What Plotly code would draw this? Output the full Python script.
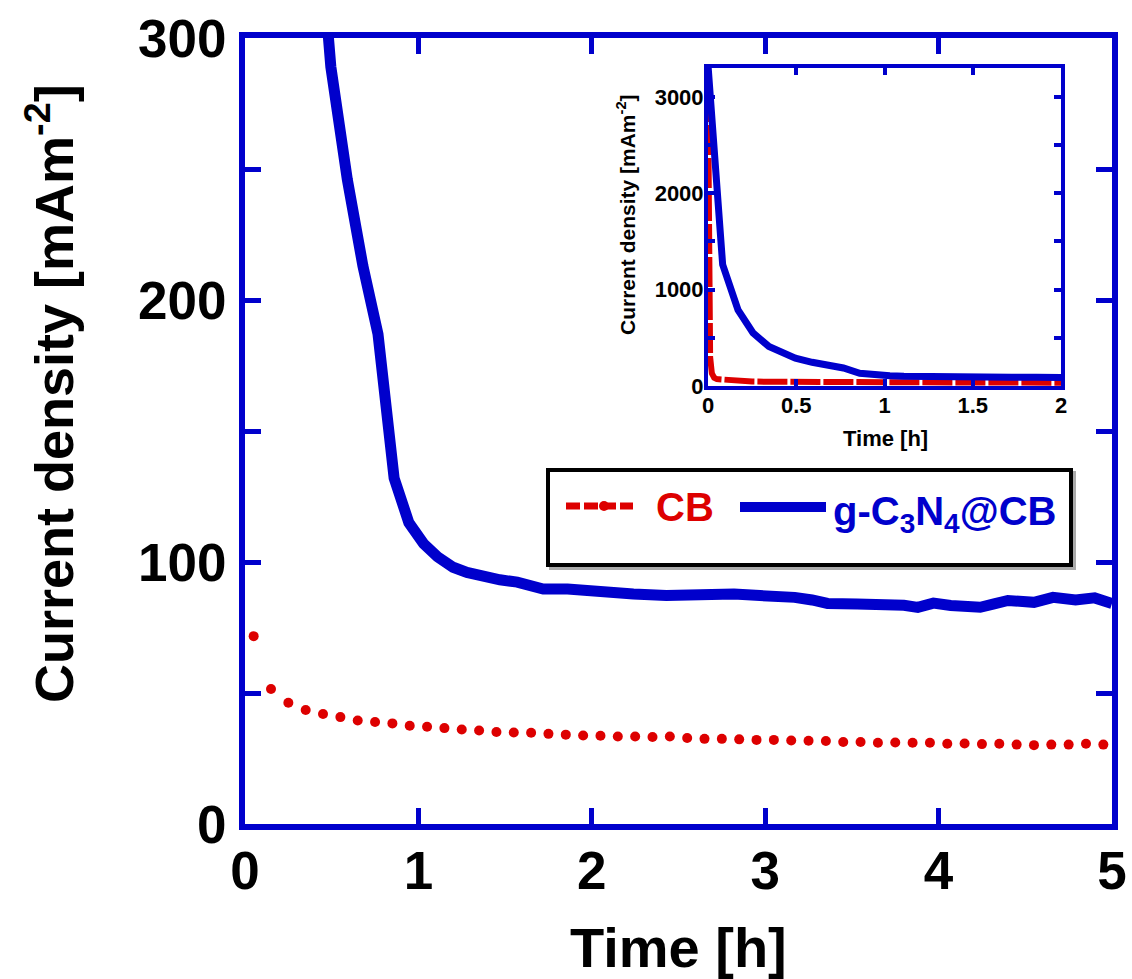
import plotly.graph_objects as go

# ---------------- data ----------------
cb_time = [0.0, 0.005, 0.012, 0.022, 0.035,
           0.05, 0.15, 0.25, 0.35, 0.45, 0.55, 0.65, 0.75, 0.85, 0.95,
           1.05, 1.15, 1.25, 1.35, 1.45, 1.55, 1.65, 1.75, 1.85, 1.95,
           2.05, 2.15, 2.25, 2.35, 2.45, 2.55, 2.65, 2.75, 2.85, 2.95,
           3.05, 3.15, 3.25, 3.35, 3.45, 3.55, 3.65, 3.75, 3.85, 3.95,
           4.05, 4.15, 4.25, 4.35, 4.45, 4.55, 4.65, 4.75, 4.85, 4.95]
cb_current = [3050, 620, 300, 130, 85,
              71.7, 51.5, 46.3, 43.5, 42.0, 40.8, 39.5, 38.9, 38.4, 37.5,
              37.1, 36.6, 36.1, 35.7, 35.1, 34.9, 34.8, 34.4, 34.1, 33.8,
              33.7, 33.4, 33.4, 33.2, 33.4, 32.8, 32.5, 32.5, 32.3, 32.1,
              32.1, 31.9, 31.8, 31.7, 31.3, 31.3, 31.0, 31.1, 31.0, 31.0,
              30.6, 30.7, 30.5, 30.6, 30.3, 30.1, 30.3, 30.3, 30.6, 30.3]

gcn_time = [0.0, 0.083, 0.17, 0.255, 0.345, 0.42, 0.495, 0.59, 0.68, 0.767,
            0.86, 0.945, 1.03, 1.11, 1.2, 1.28, 1.37, 1.47, 1.57, 1.65,
            1.72, 1.86, 1.95, 2.05, 2.24, 2.43, 2.63, 2.82, 2.97, 3.05,
            3.17, 3.27, 3.36, 3.53, 3.69, 3.8, 3.88, 3.97, 4.07, 4.18,
            4.24, 4.32, 4.4, 4.55, 4.66, 4.79, 4.9, 5.0]
gcn_current = [3330, 1260, 790, 550, 410, 345, 289, 246, 213, 187,
               132, 115, 107, 102, 98, 96, 94.5, 93.2, 92.3, 91,
               89.7, 89.7, 89, 88.5, 87.8, 87.2, 87.8, 87.8, 87.2, 87.2,
               86.5, 85.5, 84.2, 84.0, 84.0, 83.5, 82.7, 84.3, 83.4, 83.6,
               82.7, 84.0, 85.3, 84.6, 86.5, 85.5, 86.3, 84.2]

main_xticks = [0, 1, 2, 3, 4, 5]
main_yticks = [0, 50, 100, 150, 200, 250, 300]
main_ytext = ["0", "", "100", "", "200", "", "300"]
inset_xticks = [0, 0.5, 1, 1.5, 2]
inset_xtext = ["0", "0.5", "1", "1.5", "2"]
inset_yticks = [0, 500, 1000, 1500, 2000, 2500, 3000]
inset_ytext = ["0", "", "1000", "", "2000", "", "3000"]

RED = "#DD0000"
BLUE = "#0000CC"
FONT = "Liberation Sans, Arial, Helvetica, sans-serif"

# ---------------- geometry (pixels) ----------------
W_PX, H_PX = 1132, 979
L, R, T, B = 245, 1112, 38, 824
PW, PH = R - L, B - T


def px(x):
    return (x - L) / PW


def py(y):
    return (B - y) / PH


fig = go.Figure()

# main plot
fig.add_trace(go.Scatter(x=cb_time[5:], y=cb_current[5:], mode="markers",
                         marker=dict(color=RED, size=10, line=dict(width=0)),
                         name="CB", showlegend=False, xaxis="x", yaxis="y"))
fig.add_trace(go.Scatter(x=gcn_time, y=gcn_current, mode="lines",
                         line=dict(color=BLUE, width=11),
                         name="g-C3N4@CB", showlegend=False, xaxis="x", yaxis="y"))

# inset
fig.add_trace(go.Scatter(x=cb_time, y=cb_current, mode="lines",
                         line=dict(color=RED, width=6, dash="30px,3px"),
                         showlegend=False, xaxis="x2", yaxis="y2"))
fig.add_trace(go.Scatter(x=gcn_time, y=gcn_current, mode="lines",
                         line=dict(color=BLUE, width=7),
                         showlegend=False, xaxis="x2", yaxis="y2"))

tick_font_main = dict(family=FONT, size=53, color="black", weight="bold")
tick_font_inset = dict(family=FONT, size=22, color="black", weight="bold")

ix0, ix1, iy0, iy1 = 708, 1061, 68, 386

fig.update_layout(
    width=W_PX, height=H_PX,
    margin=dict(l=L, r=W_PX - R, t=T, b=H_PX - B, autoexpand=False),
    paper_bgcolor="white", plot_bgcolor="white",
    showlegend=False,
    xaxis=dict(domain=[0, 1], range=[0, 5], tickvals=main_xticks,
               ticks="inside", ticklen=16, tickwidth=5, tickcolor=BLUE,
               showline=True, linewidth=6, linecolor=BLUE, mirror="ticks",
               showgrid=False, zeroline=False, tickfont=tick_font_main,
               ticklabelstandoff=-5, anchor="y"),
    yaxis=dict(domain=[0, 1], range=[0, 300], tickvals=main_yticks,
               ticktext=main_ytext,
               ticks="inside", ticklen=16, tickwidth=5, tickcolor=BLUE,
               showline=True, linewidth=6, linecolor=BLUE, mirror="ticks",
               showgrid=False, zeroline=False, tickfont=tick_font_main,
               ticklabelstandoff=2, anchor="x"),
    xaxis2=dict(domain=[px(ix0), px(ix1)], range=[0, 2], tickvals=inset_xticks,
                ticktext=inset_xtext,
                ticks="inside", ticklen=7, tickwidth=4, tickcolor=BLUE,
                showline=True, linewidth=4, linecolor=BLUE, mirror="ticks",
                showgrid=False, zeroline=False, tickfont=tick_font_inset,
                ticklabelstandoff=-3, anchor="y2"),
    yaxis2=dict(domain=[py(iy1), py(iy0)], range=[0, 3300], tickvals=inset_yticks,
                ticktext=inset_ytext,
                ticks="inside", ticklen=7, tickwidth=4, tickcolor=BLUE,
                showline=True, linewidth=4, linecolor=BLUE, mirror="ticks",
                showgrid=False, zeroline=False, tickfont=tick_font_inset,
                ticklabelstandoff=-4, anchor="x2"),
)

title_font_main_x = dict(family=FONT, size=56, color="black", weight="bold")
title_font_main_y = dict(family=FONT, size=54, color="black", weight="bold")
title_font_inset = dict(family=FONT, size=21, color="black", weight="bold")
title_font_inset_x = dict(family=FONT, size=22, color="black", weight="bold")

annotations = [
    dict(text="Time [h]", x=px(678), y=py(947), xref="paper", yref="paper",
         showarrow=False, font=title_font_main_x, xanchor="center", yanchor="middle"),
    dict(text="Current density [mAm<sup>-2</sup>]", x=px(50), y=py(394),
         xref="paper", yref="paper", showarrow=False, textangle=-90,
         font=title_font_main_y, xanchor="center", yanchor="middle"),
    dict(text="Time [h]", x=px(885), y=py(438), xref="paper", yref="paper",
         showarrow=False, font=title_font_inset_x, xanchor="center", yanchor="middle"),
    dict(text="Current density [mAm<sup>-2</sup>]", x=px(626), y=py(215),
         xref="paper", yref="paper", showarrow=False, textangle=-90,
         font=title_font_inset, xanchor="center", yanchor="middle"),
    # legend texts
    dict(text="CB", x=px(654), y=py(507), xref="paper", yref="paper",
         showarrow=False, xanchor="left", yanchor="middle",
         font=dict(family=FONT, size=40, color=RED, weight="bold")),
    dict(text="g-C<sub>3</sub>N<sub>4</sub>@CB", x=px(831), y=py(514),
         xref="paper", yref="paper",
         showarrow=False, xanchor="left", yanchor="middle",
         font=dict(family=FONT, size=40, color=BLUE, weight="bold")),
]
fig.update_layout(annotations=annotations)

shapes = [
    # legend box shadow + box
    dict(type="rect", xref="paper", yref="paper",
         x0=px(551), x1=px(1074), y0=py(568), y1=py(473),
         line=dict(color="#AAAAAA", width=4), fillcolor="rgba(0,0,0,0)"),
    dict(type="rect", xref="paper", yref="paper",
         x0=px(548), x1=px(1071), y0=py(565), y1=py(470),
         line=dict(color="black", width=4), fillcolor="white"),
    # legend samples
    dict(type="line", xref="paper", yref="paper",
         x0=px(566), x1=px(633), y0=py(506), y1=py(506),
         line=dict(color=RED, width=7, dash="14px,4px")),
    dict(type="circle", xref="paper", yref="paper",
         x0=px(599), x1=px(609), y0=py(511), y1=py(501),
         line=dict(color=RED, width=0), fillcolor=RED),
    dict(type="line", xref="paper", yref="paper",
         x0=px(740), x1=px(826), y0=py(507), y1=py(507),
         line=dict(color=BLUE, width=10)),
]
fig.update_layout(shapes=shapes)

fig.write_html("out.html")
